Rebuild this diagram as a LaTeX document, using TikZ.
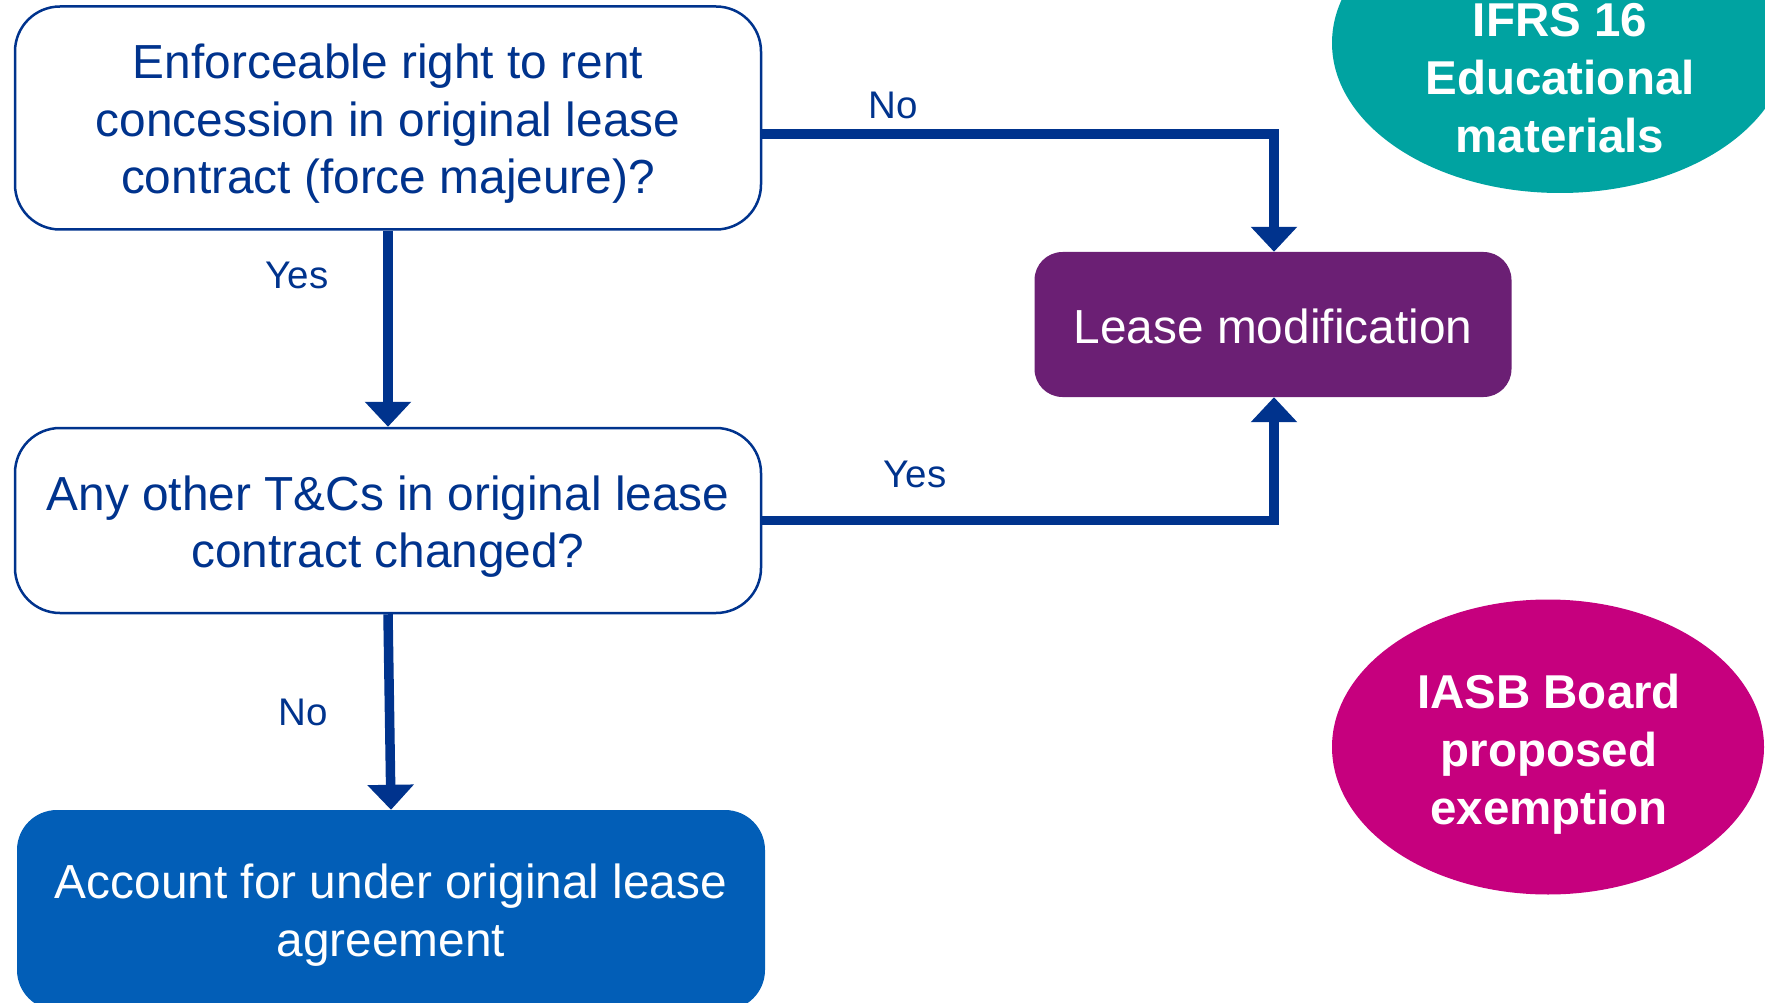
\documentclass[tikz,border=0pt]{standalone}
\usepackage{fontspec}
\setmainfont{Liberation Sans}
\usetikzlibrary{arrows.meta,shapes.geometric,calc}

\definecolor{navy}{RGB}{0,51,141}
\definecolor{boxblue}{RGB}{2,94,183}
\definecolor{plum}{RGB}{107,31,116}
\definecolor{teal16}{RGB}{0,163,161}
\definecolor{iasbpink}{RGB}{198,0,126}

\tikzset{
  question/.style={draw=navy, line width=2.5pt, fill=white, rounded corners=45pt,
    inner sep=0pt},
  outcome/.style={fill=#1, inner sep=0pt},
  boxtext/.style={text=#1, align=center, inner sep=0pt,
    font=\fontsize{47.8}{57.4}\selectfont},
  flow/.style={draw=navy, line width=9.5pt,
    -{Triangle[width=45pt,length=25pt]}},
  answer/.style={text=navy, inner sep=0pt, font=\fontsize{38.5}{46}\selectfont},
  bubble/.style={ellipse, fill=#1, draw=none, inner sep=0pt},
  bubbletext/.style={text=white, align=center, inner sep=0pt,
    font=\fontsize{47.5}{58}\selectfont\bfseries}
}

\begin{document}
\begin{tikzpicture}[x=1pt, y=-1pt]
  \useasboundingbox (0,0) rectangle (1765,1003);
  \clip (0,0) rectangle (1765,1003);

  % decision boxes
  \node[question, minimum width=746pt, minimum height=223pt] (b1) at (388,118) {};
  \node[boxtext=navy] (b1t) at (388,124)
    {Enforceable right to rent\\concession in original lease\\contract (force majeure)?};
  \node[question, minimum width=746pt, minimum height=185pt] (b2) at (388,520.5) {};
  \node[boxtext=navy] (b2t) at (388,526.5)
    {Any other T\&Cs in original lease\\contract changed?};

  % outcome boxes
  \node[outcome=plum, rounded corners=28pt, minimum width=477pt, minimum height=145pt]
    (lm) at (1273,324.5) {};
  \node[boxtext=white] (lmt) at (1273,326) {Lease modification};
  \node[outcome=boxblue, rounded corners=40pt, minimum width=748pt, minimum height=200pt]
    (b3) at (391,910) {};
  \node[boxtext=white] (b3t) at (391,915) {Account for under original lease\\agreement};

  % connectors
  \draw[flow] ([yshift=-16pt]b1.east) -| ([xshift=1pt]lm.north);
  \draw[flow] (b1.south) -- (b2.north);
  \draw[flow] (b2.east) -| ([xshift=1pt]lm.south);
  \draw[flow] (b2.south) -- (b3.north);

  % connector labels
  \node[answer] (l1) at (893,105) {No};
  \node[answer] (l2) at (297,275) {Yes};
  \node[answer] (l3) at (915,474) {Yes};
  \node[answer] (l4) at (303,712) {No};

  % legend bubbles
  \node[bubble=teal16, minimum width=456pt, minimum height=300pt] (e1) at (1560,43) {};
  \node[bubbletext] (e1t) at (1560,78) {IFRS 16\\Educational\\materials};
  \node[bubble=iasbpink, minimum width=432pt, minimum height=295pt] (e2) at (1548,747) {};
  \node[bubbletext] (e2t) at (1549,754) {IASB Board\\proposed\\exemption};
\end{tikzpicture}
\end{document}
